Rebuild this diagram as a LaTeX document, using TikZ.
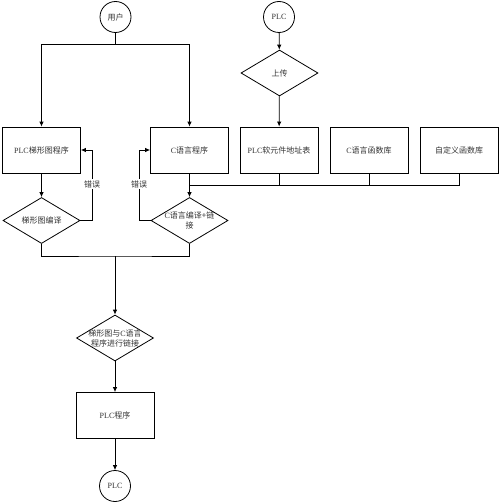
\documentclass[tikz,border=0pt]{standalone}
\usepackage{fontspec}
\setmainfont{Liberation Serif}
\newfontfamily\cjk{Noto Sans CJK SC}
\newcommand\zh[1]{{\cjk #1}}
\usetikzlibrary{shapes.geometric,arrows.meta}
\begin{document}
\begin{tikzpicture}[x=1pt,y=-1pt,
  line width=0.8pt,
  every node/.style={font=\fontsize{8}{10}\selectfont, text=black!80},
  bx/.style={draw, rectangle, minimum width=78pt, minimum height=46pt, inner sep=0pt},
  dm/.style={draw, diamond, minimum width=77pt, minimum height=46pt, inner sep=0pt},
  cir/.style={draw, circle, minimum size=31pt, inner sep=0pt},
  arr/.style={-{Latex[length=5pt,width=4.5pt]}},
  lbl/.style={fill=white, inner sep=1pt}]
\useasboundingbox (0,0) rectangle (500,503);
% nodes
\node[cir] (u) at (115.5,17) {\zh{用户}};
\node[cir] (p1) at (279,17) {PLC};
\node[dm] (up) at (279.5,73) {};
\node at (up.center) {\zh{上传}};
\node[bx] (b1) at (41.5,150) {PLC\zh{梯形图程序}};
\node[bx] (b2) at (189.5,150) {C\zh{语言程序}};
\node[bx] (b3) at (279,150) {PLC\zh{软元件地址表}};
\node[bx] (b4) at (369,150) {C\zh{语言函数库}};
\node[bx] (b5) at (459,150) {\zh{自定义函数库}};
\node[dm] (d1) at (41.5,220.5) {};
\node at (d1.center) {\zh{梯形图编译}};
\node[dm] (d2) at (189.5,220.5) {};
\node[align=center] at (d2.center) {C\zh{语言编译+链}\\\zh{接}};
\node[dm] (d3) at (115,338) {};
\node[align=center] at (d3.center) {\zh{梯形图与}C\zh{语言}\\\zh{程序进行链接}};
\node[bx] (b6) at (115,415.5) {PLC\zh{程序}};
\node[cir] (p2) at (115,486) {PLC};
% junctions
\coordinate (j1) at (115.5,44);
\coordinate (j2) at (115,256);
\coordinate (e1) at (92,220.5);
\coordinate (e2) at (139,220.5);
\coordinate (bus) at (459,185);
% connectors
\draw (u.south) -- (j1);
\draw[arr] (j1) -| (b1.north);
\draw[arr] (j1) -| (b2.north);
\draw[arr] (p1) -- (up);
\draw[arr] (up) -- (b3);
\draw[arr] (b1) -- (d1);
\draw[arr] (b2) -- (d2);
\draw[arr] (d1.east) -- (e1) |- (b1.east);
\draw[arr] (d2.west) -- (e2) |- (b2.west);
\node[lbl] (err1) at (92,184) {\zh{错误}};
\node[lbl] (err2) at (139,184) {\zh{错误}};
\draw (b3.south) |- (b2.south |- bus);
\draw (b4.south) -- (b4.south |- bus);
\draw (b5.south) -- (bus) -- (b3.south |- bus);
\draw (d1.south) |- (j2) -| (d2.south);
\draw[arr] (j2) -- (d3.north);
\draw[arr] (d3) -- (b6);
\draw[arr] (b6) -- (p2);
\end{tikzpicture}
\end{document}
